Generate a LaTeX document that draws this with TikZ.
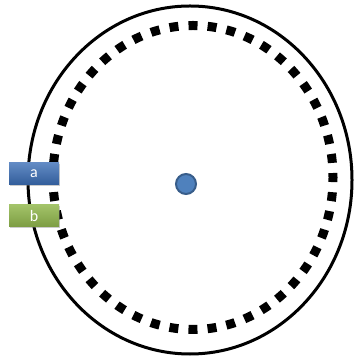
\documentclass[tikz,border=0pt]{standalone}
\usepackage{fontspec}
\setsansfont{Carlito}
\usetikzlibrary{shadows}

\definecolor{boxblue}{HTML}{3A6DB5}
\definecolor{boxgreen}{HTML}{92B84E}
\definecolor{dotblue}{HTML}{4F81BD}
\definecolor{dotedge}{HTML}{385D8A}

\tikzset{
    label box/.style={minimum width=50pt, minimum height=22pt, inner sep=0pt,
        text=white, font=\sffamily\fontsize{16}{16}\selectfont,
        drop shadow={shadow xshift=1pt, shadow yshift=-1pt, opacity=0.4}},
}

\begin{document}
\begin{tikzpicture}[x=1pt, y=1pt]
    \useasboundingbox (0,0) rectangle (353,358);

    % Cercle exterieur
    \draw[line width=3pt] (190,178) ellipse [x radius=162, y radius=174];

    % Cercle pointille
    \draw[line width=9pt, dash pattern=on 9pt off 10.12pt, dash phase=4.5pt]
        (193,180.5) ellipse [x radius=140, y radius=152];

    % Centre
    \coordinate (C) at (186,174);
    \node[circle, fill=dotblue, draw=dotedge, line width=2pt,
          minimum size=20pt, inner sep=0pt] (centre) at (C) {};

    % Etiquettes
    \node[label box, top color=boxblue!80!white, bottom color=boxblue!85!black] (a) at (34,184) {a};
    \node[label box, top color=boxgreen!85!white, bottom color=boxgreen!85!black] (b) at (34,142) {b};
\end{tikzpicture}
\end{document}
